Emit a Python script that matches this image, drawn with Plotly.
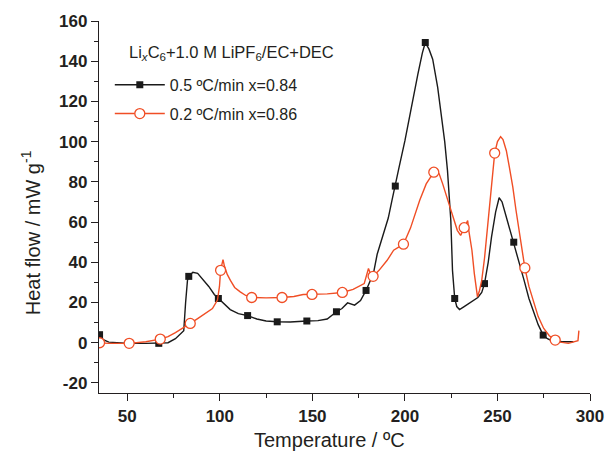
import plotly.graph_objects as go

# ---- data ----
black_T = [35, 37, 40, 45, 51, 60, 67, 72, 76, 79, 80.5, 81.5, 82.5, 83.2, 85.4, 88, 91, 94, 97, 99.2,
           102, 105.6, 110, 115, 120, 125, 131, 138, 147, 153, 158, 163, 166, 169, 172.8, 176, 179,
           181, 183, 185, 188.6, 191, 193, 194.8, 197, 200, 202, 204.5, 207, 209.4, 211, 213, 215,
           217.7, 219.8, 221.5, 223, 224.8, 225.7, 226.9, 228, 229.5, 232, 236, 239.4, 241.5, 243,
           245, 246.8, 249, 250.9, 252.5, 253.8, 256, 258.8, 261.5, 264.4, 267, 269.7, 272, 274.7,
           277, 279.4, 285, 291]
black_V = [4, 1.5, 0.3, 0, -0.3, -0.3, -0.3, 0, 2, 4.5, 6, 20, 31, 33, 35, 34.5, 31.5, 28, 24, 22,
           19.5, 16.5, 14.5, 13.5, 11.8, 10.8, 10.4, 10.3, 10.8, 11, 11.8, 15.4, 17, 19.8, 18.7, 21, 26,
           30, 34.5, 44, 54.4, 62, 70.8, 77.9, 88, 100.5, 110.5, 121, 133.6, 144, 149.3, 146, 141,
           127, 112, 100, 85.6, 60.8, 36, 22, 18, 16.5, 18, 20.3, 22.5, 25, 29.4,
           40, 52.6, 65, 72.1, 70, 65.8, 58, 50, 40, 31, 22, 14.6, 9, 3.8,
           2, 1, 0.5, 0.5]
black_mark_T = [35, 51, 67, 83.2, 99.2, 115, 131, 147, 163, 179, 194.8, 211, 226.9, 243, 258.8, 274.7]
black_mark_V = [4, -0.3, -0.3, 33, 22, 13.5, 10.4, 10.8, 15.4, 26, 77.9, 149.3, 22, 29.4, 50, 3.8]

orange_T = [35, 40, 51, 60, 67.8, 72, 76, 80, 84, 88, 92, 96, 98.7, 99.8, 100.4, 101.2, 101.7, 102.5,
            104, 105.7, 108, 111, 114, 117.2, 125, 133.6, 140, 145, 149.8, 158, 166.2, 172, 178,
            179.5, 180.3, 181.5, 182.8, 186, 190.4, 193.9, 199.2, 203, 208, 211.5, 215.6, 216.8,
            218.5, 220.4, 222.5, 224.8, 226.5, 228.3, 230.1, 232, 233.2, 233.9, 234.5, 236.2, 237.5,
            239.2, 240.3, 241.5, 243, 245, 247, 248.5, 250, 251.7, 253, 254.8, 256.5, 258.3, 260,
            261.8, 264.8, 267, 269.7, 272, 275, 278, 281.2, 284, 288.3, 293.5, 294]
orange_V = [0, -0.3, -0.3, 0.5, 1.8, 3, 5, 7.5, 9.6, 12, 14.5, 17, 21.2, 28, 36, 40, 41.3, 38,
            34, 31, 27.5, 25.3, 23.5, 22.5, 22.3, 22.5, 23, 24, 24, 24.3, 25, 26.5, 29.4,
            34, 36.9, 34, 33, 36, 41, 46, 49, 57, 70.8, 79, 84.8, 85.6,
            84, 79, 73, 66.6, 61, 55.9, 53.4, 57.2, 59, 60.8, 55.9, 46, 34.4,
            22.8, 26, 31, 42, 60.8, 80, 94.3, 100, 102.5, 101, 95.5, 87, 77.4, 66,
            55.9, 37.2, 28, 20.3, 13, 7.1, 3.5, 1.3, 0.3, -0.3, 1, 6]
orange_mark_T = [35, 51, 67.8, 84, 100.4, 117.2, 133.6, 149.8, 166.2, 182.8, 199.2, 215.6, 232, 248.5, 264.8, 281.2]
orange_mark_V = [0, -0.3, 1.8, 9.6, 36, 22.5, 22.5, 24, 25, 33, 49, 84.8, 57.2, 94.3, 37.2, 1.3]

x_ticks = [50, 100, 150, 200, 250, 300]
y_ticks = [-20, 0, 20, 40, 60, 80, 100, 120, 140, 160]

black_name = "0.5 ºC/min x=0.84"
orange_name = "0.2 ºC/min x=0.86"
legend_title = "Li<sub><i>x</i></sub>C<sub>6</sub>+1.0 M LiPF<sub>6</sub>/EC+DEC"
x_title = "Temperature / ºC"
y_title = "Heat flow / mW g<sup>-1</sup>"

BLACK = "#1a1a1a"
ORANGE = "#F04E25"
FONT = "Arial, Liberation Sans, sans-serif"
AX = "#231f20"

fig = go.Figure()
fig.add_trace(go.Scatter(x=black_T, y=black_V, mode="lines", line=dict(color=BLACK, width=1.4),
                         showlegend=False, hoverinfo="skip"))
fig.add_trace(go.Scatter(x=black_mark_T, y=black_mark_V, mode="markers",
                         marker=dict(symbol="square", size=7, color=BLACK), showlegend=False))
fig.add_trace(go.Scatter(x=orange_T, y=orange_V, mode="lines", line=dict(color=ORANGE, width=1.4),
                         showlegend=False, hoverinfo="skip"))
fig.add_trace(go.Scatter(x=orange_mark_T, y=orange_mark_V, mode="markers",
                         marker=dict(symbol="circle", size=10, color="white",
                                     line=dict(color=ORANGE, width=1.3)), showlegend=False))
# legend entries (no data, legend only)
fig.add_trace(go.Scatter(x=[None], y=[None], mode="lines+markers", name=black_name, legendgroup="a",
                         line=dict(color=BLACK, width=1.4),
                         marker=dict(symbol="square", size=7, color=BLACK)))
fig.add_trace(go.Scatter(x=[None], y=[None], mode="lines+markers", name=orange_name, legendgroup="b",
                         line=dict(color=ORANGE, width=1.4),
                         marker=dict(symbol="circle", size=10, color="white",
                                     line=dict(color=ORANGE, width=1.3))))

axis_common = dict(showline=True, linecolor=AX, linewidth=1.3, ticks="outside", ticklen=7,
                   tickwidth=1.3, tickcolor=AX, showgrid=False, zeroline=False, mirror=False,
                   tickfont=dict(family=FONT, size=17, color=AX, weight="bold"))

fig.update_layout(
    width=616, height=453,
    margin=dict(l=99, r=15, t=20, b=60),
    paper_bgcolor="white", plot_bgcolor="white",
    font=dict(family=FONT, color=AX),
    xaxis=dict(range=[34.7, 300], tickvals=x_ticks, ticktext=[f"<b>{v}</b>" for v in x_ticks],
               minor=dict(dtick=25, tick0=0, ticks="outside", ticklen=4, tickwidth=1.2, tickcolor=AX),
               **axis_common),
    yaxis=dict(range=[-25, 160], tickvals=y_ticks, ticktext=[f"<b>{v}</b>" for v in y_ticks],
               minor=dict(dtick=10, tick0=0, ticks="outside", ticklen=4, tickwidth=1.2, tickcolor=AX),
               **axis_common),
    legend=dict(x=0.022, y=0.874, xanchor="left", yanchor="top", bgcolor="rgba(0,0,0,0)",
                itemwidth=50, tracegroupgap=5, traceorder="grouped",
                font=dict(family=FONT, size=16, color=AX)),
    annotations=[
        dict(text=legend_title, xref="paper", yref="paper", x=0.058, y=0.915, xanchor="left",
             yanchor="middle", showarrow=False, font=dict(family=FONT, size=16.5, color=AX)),
        dict(text=x_title, xref="paper", yref="paper", x=0.47, y=-0.125,
             xanchor="center", yanchor="middle", showarrow=False,
             font=dict(family=FONT, size=20, color=AX)),
        dict(text=y_title, xref="paper", yref="paper", x=-0.14, y=0.43,
             xanchor="center", yanchor="middle", textangle=-90, showarrow=False,
             font=dict(family=FONT, size=20, color=AX)),
    ],
)

fig.write_html("out.html")
